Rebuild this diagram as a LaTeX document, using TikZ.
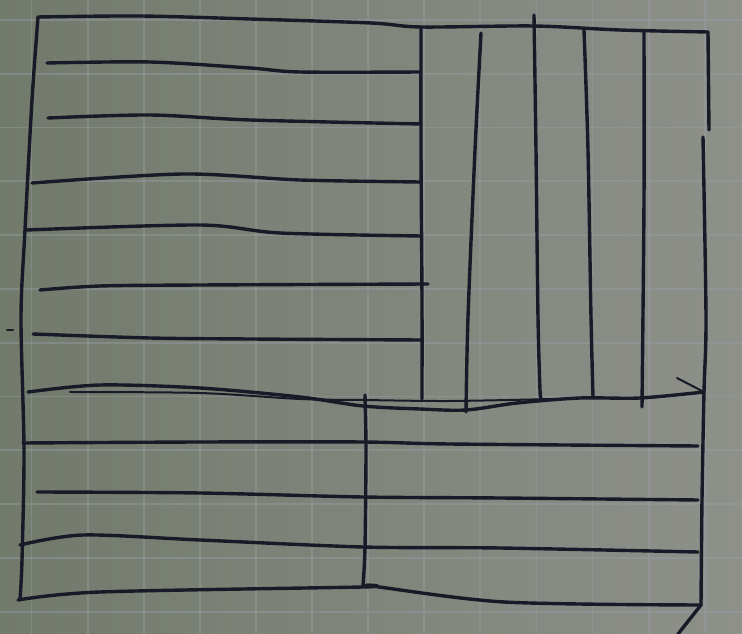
\documentclass[tikz,border=0pt]{standalone}

\definecolor{paperdark}{RGB}{114,122,108}
\definecolor{paperlight}{RGB}{142,144,138}
\definecolor{gridblue}{RGB}{152,160,170}
\definecolor{inkblue}{RGB}{24,26,40}

\begin{document}
\begin{tikzpicture}[x=0.25mm, y=-0.25mm, ink/.style={draw=inkblue,line width=0.85mm,line cap=round,line join=round}, fineink/.style={ink,line width=0.5mm}, gridline/.style={draw=gridblue,line width=0.45mm,opacity=0.4}]
\useasboundingbox (0,0) rectangle (742,634);
% squared paper
\shade[left color=paperdark,right color=paperlight] (0,0) rectangle (742,634);
\foreach \k in {0,...,12} \draw[gridline] ({31.5+56.1*\k},0) -- ++(0,634);
\foreach \k in {0,...,11} \draw[gridline] (0,{20+53.8*\k}) -- ++(742,0);
% frame
\draw[ink] plot[smooth] coordinates {(38,17) (140,16) (250,19) (371,23) (421,27) (534,26) (620,30) (708,32)};
\draw[ink] (708,32) -- (709,130);
\draw[ink] plot[smooth] coordinates {(38,17) (32,100) (25,230) (21,317) (24,450) (22,560) (20,600)};
\draw[ink] plot[smooth] coordinates {(703,137) (706,317) (704,392) (702,500) (701,605)};
\draw[ink] plot[smooth] coordinates {(18,600) (100,592) (363,587) (371,586) (504,602) (701,605)};
\draw[ink] (701,605) -- (678,634);
\draw[fineink] (7,330) -- (13,330);
% upper left block
\draw[ink] plot[smooth] coordinates {(421,27) (421,150) (422,300) (422,399)};
\draw[ink] plot[smooth] coordinates {(47,63) (150,62) (250,68) (300,72) (421,72)};
\draw[ink] plot[smooth] coordinates {(48,118) (150,115) (250,120) (421,124)};
\draw[ink] plot[smooth] coordinates {(32,183) (183,174) (300,180) (421,182)};
\draw[ink] plot[smooth] coordinates {(27,230) (200,225) (280,233) (421,236)};
\draw[ink] plot[smooth] coordinates {(40,290) (100,286) (200,285) (428,284)};
\draw[ink] plot[smooth] coordinates {(33,334) (150,338) (250,339) (421,340)};
% upper right block
\draw[ink] plot[smooth] coordinates {(481,33) (475,150) (468,317) (466,412)};
\draw[ink] plot[smooth] coordinates {(534,15) (536,150) (538,317) (540,390) (541,397)};
\draw[ink] plot[smooth] coordinates {(584,30) (588,150) (591,317) (593,397)};
\draw[ink] plot[smooth] coordinates {(644,32) (644,200) (642,407)};
% middle line
\draw[ink] plot[smooth] coordinates {(28,392) (100,385) (200,388) (300,397) (363,406) (420,409) (466,410) (517,403) (580,398) (640,398) (704,392)};
\draw[fineink] plot[smooth] coordinates {(70,392) (200,393) (300,399) (363,400) (450,401) (553,399)};
\draw[fineink] (677,378) -- (704,392);
% lower block
\draw[ink] plot[smooth] coordinates {(365,395) (366,450) (365,547) (363,586)};
\draw[ink] plot[smooth] coordinates {(23,443) (200,442) (363,442) (450,444) (698,446)};
\draw[ink] plot[smooth] coordinates {(37,492) (200,493) (363,497) (500,498) (698,500)};
\draw[ink] plot[smooth] coordinates {(20,545) (83,535) (200,540) (363,547) (500,548) (698,552)};
\end{tikzpicture}
\end{document}
